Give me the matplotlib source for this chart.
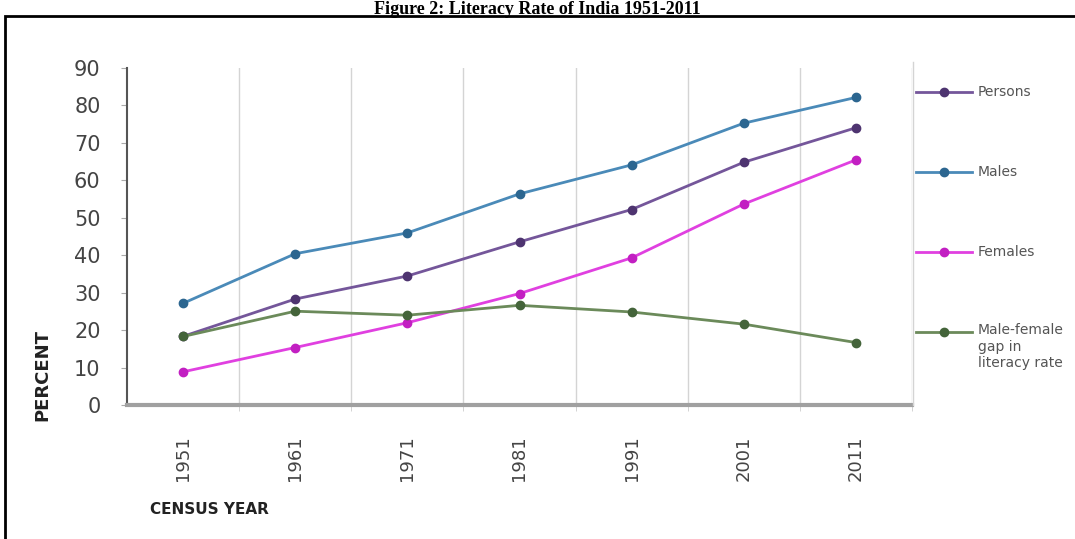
import numpy as np
import matplotlib.pyplot as plt
from matplotlib.patches import Rectangle

# census data
years = ['1951', '1961', '1971', '1981', '1991', '2001', '2011']
persons = [18.33, 28.30, 34.45, 43.57, 52.21, 64.83, 74.04]
males = [27.16, 40.40, 45.96, 56.38, 64.13, 75.26, 82.14]
females = [8.86, 15.35, 21.97, 29.76, 39.29, 53.67, 65.46]
gap = [18.30, 25.05, 23.98, 26.62, 24.84, 21.59, 16.68]

series_names = ['Persons', 'Males', 'Females', 'Male-female\ngap in\nliteracy rate']
line_cols = ['#74569a', '#4a8ab8', '#e040e0', '#6b8a5a']
mark_cols = ['#4e3470', '#2c6690', '#c21fc2', '#44643a']

fam = 'DejaVu Sans'

fig = plt.figure(figsize=(10.75, 5.39), dpi=100)
ax = fig.add_axes([127/1075, 1-405/539, (912-127)/1075, (405-68)/539])

x = np.arange(len(years))
allseries = [persons, males, females, gap]
for vals, lc, mc in zip(allseries, line_cols, mark_cols):
    ax.plot(x, vals, color=lc, lw=2, marker='o', ms=6, mfc=mc, mec=mc, zorder=3)

ax.set_xlim(-0.5, 6.5)
ax.set_ylim(0, 90)
ax.set_yticks(range(0, 91, 10))
ax.set_xticks(x)
ax.set_xticklabels(years, rotation=90, family=fam, fontsize=13, color='#444444')
ax.set_yticklabels([str(v) for v in range(0, 91, 10)], family=fam, fontsize=15, color='#444444')
ax.set_xticks(np.arange(0.5, 7, 1), minor=True)
ax.tick_params(axis='x', which='major', length=0, pad=22)
ax.tick_params(axis='x', which='minor', length=4, color='#cccccc')
ax.tick_params(axis='y', length=4, color='#aaaaaa', pad=15)
ax.grid(True, axis='x', which='minor', color='#d4d4d4', lw=1)

for s in ['top', 'right']:
    ax.spines[s].set_visible(False)
ax.spines['left'].set_color('#555555')
ax.spines['left'].set_linewidth(1.5)
ax.spines['bottom'].set_color('#a0a0a0')
ax.spines['bottom'].set_linewidth(3)

# axis titles
fig.text(42/1075, 1-375/539, 'PERCENT', rotation=90, ha='center', va='center',
         family=fam, fontsize=13, fontweight='bold', color='#222222')
fig.text(150/1075, 1-510/539, 'CENSUS YEAR', ha='left', va='center',
         family=fam, fontsize=11, fontweight='bold', color='#222222')

# legend to the right
leg_y = [92, 172, 252, 332]
for name, yy, lc, mc in zip(series_names, leg_y, line_cols, mark_cols):
    fy = 1 - yy/539
    fig.add_artist(plt.Line2D([916/1075, 972/1075], [fy, fy], color=lc, lw=2))
    fig.add_artist(plt.Line2D([944/1075], [fy], marker='o', ms=6, color=mc))
    if '\n' in name:
        fig.text(978/1075, fy + 9/539, name, ha='left', va='top', family=fam,
                 fontsize=10, color='#555555', linespacing=1.25)
    else:
        fig.text(978/1075, fy, name, ha='left', va='center', family=fam,
                 fontsize=10, color='#555555')

# vertical line closing the plot at the right
fig.add_artist(plt.Line2D([913/1075, 913/1075], [1-62/539, 1-405/539], color='#d4d4d4', lw=1))

# outer frame and title
fig.add_artist(Rectangle((5/1075, -0.05), 1.1, 1-16/539+0.05, transform=fig.transFigure,
                         fill=False, ec='black', lw=2))
fig.text(0.5, 1-13.5/539, 'Figure 2: Literacy Rate of India 1951-2011', ha='center', va='baseline',
         family='Liberation Serif', fontsize=13, fontweight='bold')

fig.savefig('out.png', dpi=100)
